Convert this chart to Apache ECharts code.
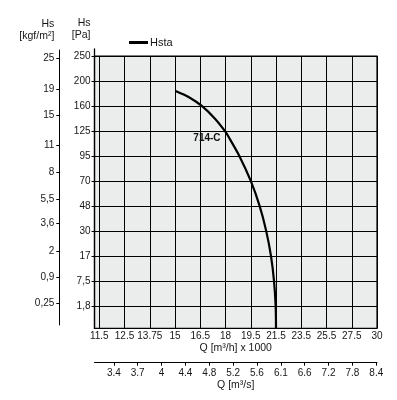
<!DOCTYPE html>
<html>
<head>
<meta charset="utf-8">
<script src="https://cdn.jsdelivr.net/npm/echarts@6/dist/echarts.min.js"></script>
<style>
html,body{margin:0;padding:0;background:#fff;}
#c{width:397px;height:400px;}
</style>
</head>
<body>
<div id="c"></div>
<script>
// ---- data ----
const xTickValues = [11.5, 12.5, 13.75, 15, 16.5, 18, 19.5, 21.5, 23.5, 25.5, 27.5, 30];
const xTickLabels = ['11.5', '12.5', '13.75', '15', '16.5', '18', '19.5', '21.5', '23.5', '25.5', '27.5', '30'];
const x2TickLabels = ['3.4', '3.7', '4', '4.4', '4.8', '5.2', '5.6', '6.1', '6.6', '7.2', '7.8', '8.4'];
const yTickValues = [1.8, 7.5, 17, 30, 48, 70, 95, 125, 160, 200, 250];
const yTickLabels = ['1,8', '7,5', '17', '30', '48', '70', '95', '125', '160', '200', '250'];
const kgfValues = [0.25, 0.9, 2, 3.6, 5.5, 8, 11, 15, 19, 25];
const kgfLabels = ['0,25', '0,9', '2', '3,6', '5,5', '8', '11', '15', '19', '25'];
const KGF_TO_PA = 9.81;
// curve 714-C : Q [m3/h x 1000], Hs [Pa]
const curveQ  = [15.03, 15.83, 16.59, 17.36, 17.96, 18.18, 18.82, 19.5, 20.2, 20.72, 21.1, 21.34, 21.47, 21.5];
const curveHs = [184, 174, 160, 142.5, 125, 118, 95, 70, 48, 30, 17, 7.5, 1.8, 0];
const curveName = 'Hsta';
const curveLabel = '714-C';
const curveLabelAtQ = 18.18;

// ---- layout ----
const PLOT_LEFT = 94.5, PLOT_TOP = 56, PLOT_RIGHT = 20, PLOT_BOTTOM = 71.7;
const X_MIN = -0.19, X_MAX = 11;
const X2_MIN = -0.81, X2_MAX = 11.03;
const Y_MIN = -0.9, Y_MAX = 10;
const H = 400;
const plotH = H - PLOT_TOP - PLOT_BOTTOM;
const pxPerIdx = plotH / (Y_MAX - Y_MIN);
function idxAtPixel(py) { return (H - PLOT_BOTTOM - py) / pxPerIdx + Y_MIN; }

// piecewise scale helpers (ticks are equally spaced on the chart)
function interp(v, vals, start) {
  if (v <= vals[0]) return start;
  for (let i = 0; i < vals.length - 1; i++) {
    if (v <= vals[i + 1]) return i + (v - vals[i]) / (vals[i + 1] - vals[i]);
  }
  return vals.length - 1;
}
function qToIdx(q) { return interp(q, xTickValues, 0); }
function paToIdx(p) {
  if (p < yTickValues[0]) return Y_MIN + (p / yTickValues[0]) * (0 - Y_MIN);
  return interp(p, yTickValues, 0);
}

const xIdx = xTickValues.map((v, i) => i);
const x2Idx = x2TickLabels.map((v, i) => i);
const yIdx = yTickValues.map((v, i) => i);
const kgfIdx = kgfValues.map(v => paToIdx(v * KGF_TO_PA));

const FONT = "'Liberation Sans Narrow', 'Liberation Sans', Arial, sans-serif";
const FONT_R = "'Liberation Sans', Arial, sans-serif";
const TXT = '#161616';

const seriesData = curveQ.map((q, i) => {
  const item = { value: [qToIdx(q), paToIdx(curveHs[i])] };
  if (q === curveLabelAtQ) {
    item.label = { show: true, formatter: curveLabel, position: 'left', distance: 8, offset: [0, 1],
      fontSize: 10, fontWeight: 'bold', color: '#111', fontFamily: FONT_R };
  }
  return item;
});

function nearestLabel(v, positions, labels) {
  let best = 0, bd = Infinity;
  positions.forEach((p, i) => { const d = Math.abs(p - v); if (d < bd) { bd = d; best = i; } });
  return labels[best];
}

const chart = echarts.init(document.getElementById('c'), null, { renderer: 'canvas' });
chart.setOption({
  animation: false,
  backgroundColor: '#fff',
  textStyle: { fontFamily: FONT_R },
  legend: {
    data: [curveName], left: 129, top: 37, padding: 0, icon: 'rect', itemWidth: 19, itemHeight: 3,
    textStyle: { fontSize: 11, color: TXT, fontFamily: FONT_R, padding: [0, 0, 0, -3] }
  },
  grid: [
    { left: PLOT_LEFT, top: PLOT_TOP, right: PLOT_RIGHT, bottom: PLOT_BOTTOM, show: true,
      backgroundColor: '#ebedec', borderColor: '#000', borderWidth: 1.2 },
    { left: 59.3, width: 10, top: 50, bottom: H - 325 },
    { left: PLOT_LEFT, right: PLOT_RIGHT, top: 49, bottom: PLOT_BOTTOM }
  ],
  xAxis: [
    { type: 'value', gridIndex: 0, min: X_MIN, max: X_MAX, position: 'bottom',
      axisLine: { show: false, onZero: false },
      axisTick: { show: false, customValues: xIdx },
      splitLine: { show: true, lineStyle: { color: '#000', width: 1 } },
      axisLabel: { customValues: xIdx, margin: 3, fontSize: 10, color: TXT, fontFamily: FONT,
        formatter: v => xTickLabels[Math.round(v)] },
      name: 'Q [m³/h] x 1000', nameLocation: 'middle', nameGap: 14, nameMoveOverlap: false,
      nameTextStyle: { fontSize: 10.5, color: TXT, fontFamily: FONT_R } },
    { type: 'value', gridIndex: 0, min: X2_MIN, max: X2_MAX, position: 'bottom', offset: 34.4,
      axisLine: { show: true, onZero: false, lineStyle: { color: '#000', width: 1 } },
      axisTick: { show: true, length: 3, customValues: x2Idx, lineStyle: { color: '#000' } },
      splitLine: { show: false },
      axisLabel: { customValues: x2Idx, margin: 6, fontSize: 10, color: TXT, fontFamily: FONT,
        formatter: v => x2TickLabels[Math.round(v)] },
      name: 'Q [m³/s]', nameLocation: 'middle', nameGap: 17, nameMoveOverlap: false,
      nameTextStyle: { fontSize: 10.5, color: TXT, fontFamily: FONT_R } },
    { type: 'value', gridIndex: 1, show: false, min: 0, max: 1 },
    { type: 'value', gridIndex: 2, show: false, min: 0, max: 1 }
  ],
  yAxis: [
    { type: 'value', gridIndex: 0, min: Y_MIN, max: Y_MAX,
      axisLine: { show: false, onZero: false },
      axisTick: { show: false, customValues: yIdx },
      axisLabel: { show: false, customValues: yIdx },
      splitLine: { show: true, lineStyle: { color: '#000', width: 1 } } },
    { type: 'value', gridIndex: 1, position: 'left',
      min: idxAtPixel(H - 75), max: idxAtPixel(50),
      axisLine: { show: true, onZero: false, lineStyle: { color: '#000', width: 1 } },
      axisTick: { show: true, length: 3, customValues: kgfIdx, lineStyle: { color: '#000' } },
      splitLine: { show: false },
      axisLabel: { customValues: kgfIdx, margin: 5, fontSize: 10, color: TXT, fontFamily: FONT_R,
        formatter: v => nearestLabel(v, kgfIdx, kgfLabels) },
      name: 'Hs\n[kgf/m²]', nameLocation: 'end', nameGap: 8,
      nameTextStyle: { align: 'right', verticalAlign: 'bottom', padding: [0, 5, 0, 0],
        fontSize: 10.5, lineHeight: 12, color: TXT, fontFamily: FONT_R } },
    { type: 'value', gridIndex: 2, position: 'left',
      min: Y_MIN, max: idxAtPixel(49),
      axisLine: { show: true, onZero: false, lineStyle: { color: '#000', width: 1.3 } },
      axisTick: { show: true, length: 3, customValues: yIdx, lineStyle: { color: '#000' } },
      splitLine: { show: false },
      axisLabel: { customValues: yIdx, margin: 4, fontSize: 10, color: TXT, fontFamily: FONT_R,
        formatter: v => yTickLabels[Math.round(v)] },
      name: 'Hs\n[Pa]', nameLocation: 'end', nameGap: 7.5,
      nameTextStyle: { align: 'right', verticalAlign: 'bottom', padding: [0, 4, 0, 0],
        fontSize: 10.5, lineHeight: 12, color: TXT, fontFamily: FONT_R } }
  ],
  series: [{
    name: curveName, type: 'line', xAxisIndex: 0, yAxisIndex: 0,
    data: seriesData, smooth: 0.3,
    symbol: 'circle', symbolSize: 0, showSymbol: true, showAllSymbol: true,
    itemStyle: { color: '#000' },
    lineStyle: { color: '#000', width: 2.2 },
    clip: false
  }]
});
</script>
</body>
</html>
